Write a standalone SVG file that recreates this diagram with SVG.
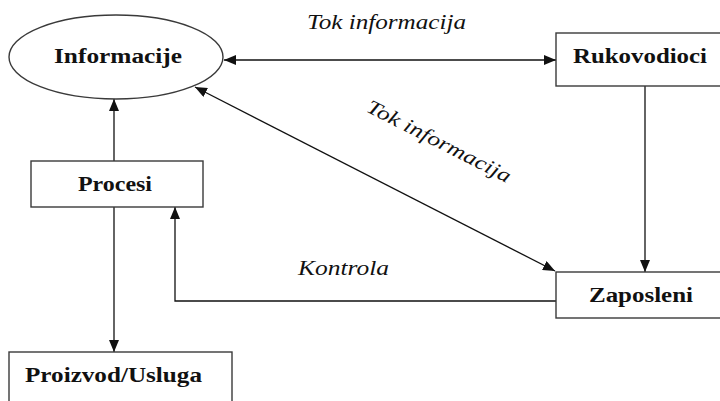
<svg xmlns="http://www.w3.org/2000/svg" width="720" height="401" viewBox="0 0 720 401">
  <style>
    .shape { fill: #ffffff; stroke: #3a3a3a; stroke-width: 1.4; }
    .lbl { font-family: 'Liberation Serif', 'Times New Roman', 'DejaVu Serif', serif; font-weight: bold; font-size: 20px; fill: #111; }
    .flow { font-family: 'Liberation Serif', 'Times New Roman', 'DejaVu Serif', serif; font-style: italic; font-size: 20px; fill: #111; }
    .conn { fill: none; stroke: #111; stroke-width: 1.3; }
  </style>
  <defs>
    <marker id="head" viewBox="0 0 12 10" refX="12" refY="5" markerWidth="12" markerHeight="10" markerUnits="userSpaceOnUse" orient="auto-start-reverse">
      <path d="M0,0 L12,5 L0,10 Z" fill="#111"/>
    </marker>
  </defs>
  <rect width="720" height="401" fill="#ffffff"/>

  <g id="connectors">
    <!-- Informacije <-> Rukovodioci -->
    <line class="conn" x1="224" y1="60" x2="556" y2="60" marker-start="url(#head)" marker-end="url(#head)"/>
    <!-- Informacije <-> Zaposleni -->
    <line class="conn" x1="195" y1="87" x2="555" y2="271" marker-start="url(#head)" marker-end="url(#head)"/>
    <!-- Rukovodioci -> Zaposleni -->
    <line class="conn" x1="645" y1="86" x2="645" y2="272" marker-end="url(#head)"/>
    <!-- Procesi -> Informacije -->
    <line class="conn" x1="114" y1="161" x2="114" y2="99" marker-end="url(#head)"/>
    <!-- Procesi -> Proizvod/Usluga -->
    <line class="conn" x1="114" y1="207" x2="114" y2="352" marker-end="url(#head)"/>
    <!-- Zaposleni -> Procesi (control) -->
    <polyline class="conn" points="556,301 175,301 175,207" marker-end="url(#head)"/>
    <text class="flow" x="307" y="29" textLength="159" lengthAdjust="spacingAndGlyphs">Tok informacija</text>
    <text class="flow" x="0" y="0" textLength="159" lengthAdjust="spacingAndGlyphs" text-anchor="middle" transform="translate(436,147) rotate(27)">Tok informacija</text>
    <text class="flow" x="298" y="275" textLength="91" lengthAdjust="spacingAndGlyphs">Kontrola</text>
  </g>

  <g id="informacije">
    <ellipse class="shape" cx="116" cy="57" rx="107" ry="42"/>
    <text class="lbl" x="54" y="63" textLength="128" lengthAdjust="spacingAndGlyphs">Informacije</text>
  </g>

  <g id="rukovodioci">
    <rect class="shape" x="556" y="33" width="170" height="53"/>
    <text class="lbl" x="573" y="63" textLength="134" lengthAdjust="spacingAndGlyphs">Rukovodioci</text>
  </g>

  <g id="procesi">
    <rect class="shape" x="31" y="161" width="172" height="46"/>
    <text class="lbl" x="78" y="191" textLength="74" lengthAdjust="spacingAndGlyphs">Procesi</text>
  </g>

  <g id="zaposleni">
    <rect class="shape" x="556" y="272" width="170" height="46"/>
    <text class="lbl" x="589" y="302" textLength="104" lengthAdjust="spacingAndGlyphs">Zaposleni</text>
  </g>

  <g id="proizvod-usluga">
    <rect class="shape" x="9" y="352" width="223" height="60"/>
    <text class="lbl" x="25" y="382" textLength="177" lengthAdjust="spacingAndGlyphs">Proizvod/Usluga</text>
  </g>
</svg>
